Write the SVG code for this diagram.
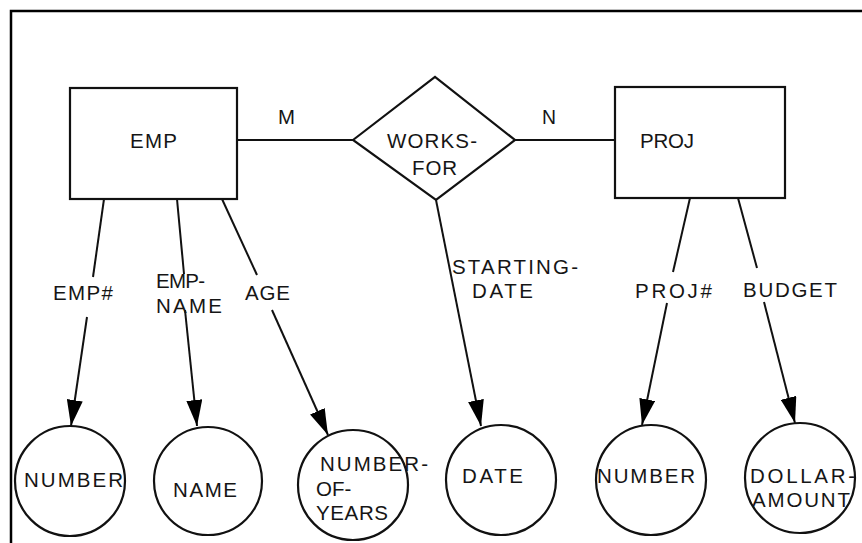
<svg xmlns="http://www.w3.org/2000/svg" width="862" height="543" viewBox="0 0 862 543">
  <style>
    .shape { fill: none; stroke: #111; stroke-width: 2.2; }
    .edge { fill: none; stroke: #111; stroke-width: 2; }
    .frame { fill: none; stroke: #000; stroke-width: 2.5; }
    text { font-family: "Liberation Sans", "DejaVu Sans", sans-serif; font-size: 20.5px; fill: #151515; }
  </style>
  <defs>
    <marker id="arrow" viewBox="0 0 26 16" refX="26" refY="8" markerWidth="26" markerHeight="16" markerUnits="userSpaceOnUse" orient="auto">
      <path d="M0,0 L26,8 L0,16 Z" fill="#000"/>
    </marker>
  </defs>
  <rect width="862" height="543" fill="#fff"/>

  <!-- page frame -->
  <path class="frame" d="M11,543 L11,11 L862,11"/>

  <!-- connectors -->
  <g id="connectors">
    <path class="edge" d="M237,140 L353,140"/>
    <path class="edge" d="M515,140 L615,140"/>
    <path class="edge" d="M104,199 L93,277"/>
    <path class="edge" d="M87,317 L71,426" marker-end="url(#arrow)"/>
    <path class="edge" d="M177,199 L184,274"/>
    <path class="edge" d="M185,310 L197,426" marker-end="url(#arrow)"/>
    <path class="edge" d="M222,199 L257,275"/>
    <path class="edge" d="M272,310 L328,435" marker-end="url(#arrow)"/>
    <path class="edge" d="M436,200 L481,426" marker-end="url(#arrow)"/>
    <path class="edge" d="M690,198 L673,272"/>
    <path class="edge" d="M667,303 L642,425" marker-end="url(#arrow)"/>
    <path class="edge" d="M738,198 L757,268"/>
    <path class="edge" d="M764,302 L795,423" marker-end="url(#arrow)"/>
    <text x="278" y="124" textLength="17" lengthAdjust="spacingAndGlyphs">M</text>
    <text x="542" y="124" textLength="14" lengthAdjust="spacingAndGlyphs">N</text>
    <text x="53" y="300" textLength="60">EMP#</text>
    <text x="156" y="288" textLength="49">EMP-</text>
    <text x="156" y="313" textLength="66">NAME</text>
    <text x="245" y="300" textLength="45">AGE</text>
    <text x="452" y="274" textLength="126">STARTING-</text>
    <text x="472" y="298" textLength="61">DATE</text>
    <text x="635" y="298" textLength="77">PROJ#</text>
    <text x="743" y="297" textLength="94">BUDGET</text>
  </g>

  <g id="emp">
    <rect class="shape" x="70" y="88" width="167" height="111"/>
    <text x="130" y="148" textLength="47">EMP</text>
  </g>

  <g id="works-for">
    <path class="shape" d="M353,140 L435,77 L515,140 L436,200 Z"/>
    <text x="387" y="148" textLength="90">WORKS-</text>
    <text x="412" y="175" textLength="45">FOR</text>
  </g>

  <g id="proj">
    <rect class="shape" x="615" y="87" width="170" height="111"/>
    <text x="640" y="148" textLength="54">PROJ</text>
  </g>

  <g id="number-emp">
    <circle class="shape" cx="70" cy="481" r="55"/>
    <text x="24" y="487" textLength="99">NUMBER</text>
  </g>

  <g id="name">
    <circle class="shape" cx="208" cy="481" r="54"/>
    <text x="173" y="497" textLength="64">NAME</text>
  </g>

  <g id="number-of-years">
    <circle class="shape" cx="353" cy="485" r="55"/>
    <text x="320" y="471" textLength="108">NUMBER-</text>
    <text x="316" y="496">OF-</text>
    <text x="316" y="520" textLength="72">YEARS</text>
  </g>

  <g id="date">
    <circle class="shape" cx="501" cy="480" r="55"/>
    <text x="462" y="483" textLength="61">DATE</text>
  </g>

  <g id="number-proj">
    <circle class="shape" cx="651" cy="480" r="55"/>
    <text x="597" y="483" textLength="98">NUMBER</text>
  </g>

  <g id="dollar-amount">
    <circle class="shape" cx="800" cy="478" r="55"/>
    <text x="750" y="483" textLength="105">DOLLAR-</text>
    <text x="752" y="507" textLength="98">AMOUNT</text>
  </g>
</svg>
